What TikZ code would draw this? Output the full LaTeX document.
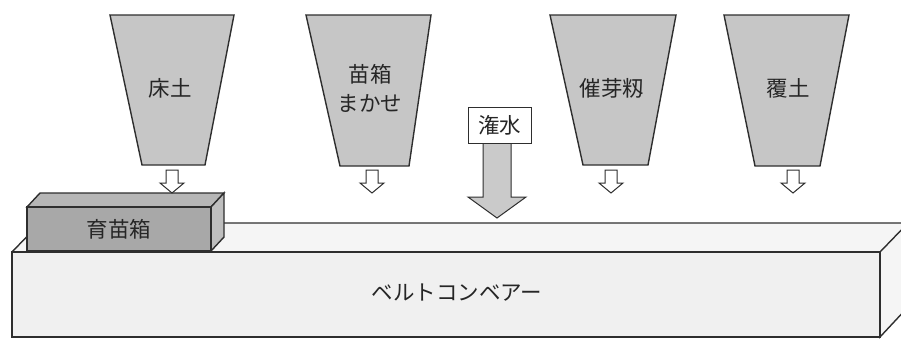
\documentclass[tikz,border=0pt]{standalone}
\usepackage{fontspec}
\setmainfont{Noto Sans CJK JP}
\definecolor{edge}{HTML}{2E2E2E}
\definecolor{hopperfill}{HTML}{C6C6C6}
\definecolor{boxfront}{HTML}{A8A8A8}
\definecolor{boxtop}{HTML}{B6B6B6}
\definecolor{boxside}{HTML}{BEBEBE}
\definecolor{beltfront}{HTML}{F0F0F0}
\definecolor{belttop}{HTML}{F5F5F5}
\definecolor{waterfill}{HTML}{CACACA}
\tikzset{
  outline/.style={draw=edge, line width=1.4pt, line join=miter},
  hopper/.style={outline, fill=hopperfill},
  label/.style={font=\fontsize{21.5}{29}\selectfont, text=black!85, align=center, inner sep=0pt},
  feed/.pic={
    \draw[draw=edge, line width=1pt, fill=white] (-6,0) -- (6,0) -- (6,13) -- (12,13) -- (0,23) -- (-12,13) -- (-6,13) -- cycle;
  }
}
\begin{document}
\begin{tikzpicture}[x=1pt,y=-1pt]
\useasboundingbox (0,0) rectangle (901,338);
% belt conveyor
\fill[belttop] (12,252) -- (40,223) -- (908,223) -- (880,252) -- cycle;
\draw[outline, fill=belttop] (880,252) -- (908,223) -- (908,307) -- (880,337) -- cycle;
\draw[outline] (12,252) -- (40,223) -- (908,223);
\draw[outline, fill=beltfront] (12,252) rectangle (880,337);
\node[label] (belt) at (457,293) {ベルトコンベアー};
% seedling box
\draw[outline, fill=boxtop] (27,207) -- (40,193) -- (224,193) -- (211,207) -- cycle;
\draw[outline, fill=boxside] (211,207) -- (224,193) -- (224,237) -- (211,251) -- cycle;
\draw[outline, fill=boxfront] (27,207) rectangle (211,251);
\node[label] (box) at (119,229) {育苗箱};
% hoppers
\draw[hopper] (110,15) -- (234,15) -- (205,165) -- (142,165) -- cycle;
\node[label] (h1) at (170,88) {床土};
\draw[hopper] (306,15) -- (431,15) -- (409,166) -- (340,166) -- cycle;
\node[label] (h2) at (370,88) {苗箱\\まかせ};
\draw[hopper] (550,15) -- (676,15) -- (648,165) -- (583,165) -- cycle;
\node[label] (h3) at (612,88) {催芽籾};
\draw[hopper] (724,15) -- (849,15) -- (820,166) -- (755,166) -- cycle;
\node[label] (h4) at (788,88) {覆土};
% feed arrows
\pic at (172,170) {feed};
\pic at (372,170) {feed};
\pic at (611,170) {feed};
\pic at (793,170) {feed};
% watering
\draw[draw=edge, line width=1pt, fill=waterfill] (483,143) -- (511,143) -- (511,197) -- (526,197) -- (497,218) -- (468,197) -- (483,197) -- cycle;
\node[draw=edge, line width=1pt, fill=white, minimum width=63pt, minimum height=36pt, inner sep=0pt, font=\fontsize{21.5}{24}\selectfont, text=black!85] (water) at (499.5,125) {潅水};
\end{tikzpicture}
\end{document}
